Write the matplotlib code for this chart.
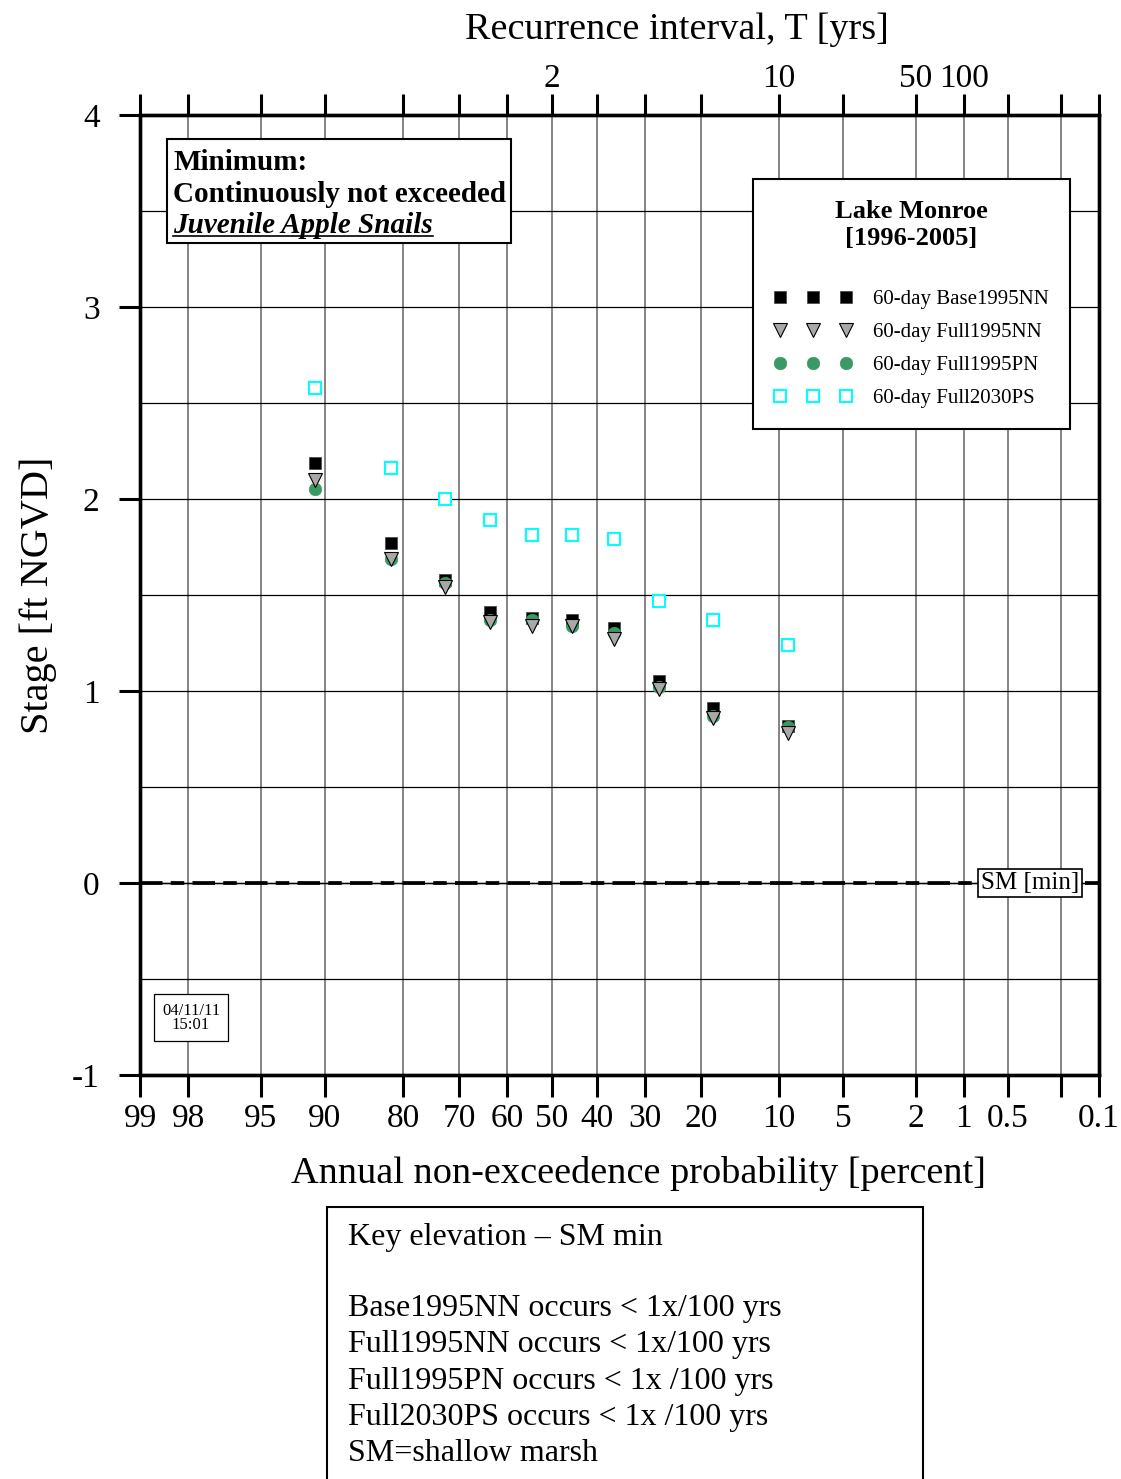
import numpy as np
import matplotlib
matplotlib.use("Agg")
import matplotlib.pyplot as plt
from matplotlib.patches import Rectangle
from matplotlib.lines import Line2D
from statistics import NormalDist

plt.rcParams['font.family'] = ['Liberation Serif', 'DejaVu Serif']
plt.rcParams['axes.unicode_minus'] = False

# plotting positions (annual non-exceedance probability, percent)
prob = [90.91, 81.82, 72.73, 63.64, 54.55, 45.45, 36.36, 27.27, 18.18, 9.09]

base1995nn = [2.19, 1.77, 1.58, 1.41, 1.38, 1.37, 1.33, 1.05, 0.91, 0.82]
full1995nn = [2.10, 1.69, 1.54, 1.36, 1.34, 1.34, 1.27, 1.01, 0.86, 0.78]
full1995pn = [2.05, 1.69, 1.56, 1.37, 1.37, 1.34, 1.30, 1.02, 0.87, 0.81]
full2030ps = [2.58, 2.16, 2.00, 1.89, 1.81, 1.81, 1.79, 1.47, 1.37, 1.24]

xticks = [99, 98, 95, 90, 80, 70, 60, 50, 40, 30, 20, 10, 5, 2, 1, 0.5, 0.2, 0.1]
xlabels = ['99', '98', '95', '90', '80', '70', '60', '50', '40', '30', '20',
           '10', '5', '2', '1', '0.5', '', '0.1']
toplabels = ['', '', '', '', '', '', '', '2', '', '', '', '10', '', '50', '100',
             '', '', '']

key_title = "Key elevation \u2013 SM min"
key_lines = ["Base1995NN occurs < 1x/100 yrs",
             "Full1995NN occurs < 1x/100 yrs",
             "Full1995PN occurs < 1x /100 yrs",
             "Full2030PS occurs < 1x /100 yrs",
             "SM=shallow marsh"]

nd = NormalDist()


def fwd(p):
    p = np.clip(np.asarray(p, float), 1e-6, 100 - 1e-6)
    return np.vectorize(lambda v: nd.inv_cdf(v / 100), otypes=[float])(p)


def inv(z):
    z = np.clip(np.asarray(z, float), -8, 8)
    return np.vectorize(lambda v: 100 * nd.cdf(v), otypes=[float])(z)


fig = plt.figure(figsize=(11.21, 14.79), dpi=100)
ax = fig.add_axes([0.1249, 0.2732, 0.8555, 0.6490])

ax.set_xscale('function', functions=(fwd, inv))
ax.set_xlim(99, 0.1)
ax.set_ylim(-1, 4)

ax.set_xticks(xticks)
ax.set_xticklabels(xlabels)
ax.set_xticks([], minor=True)
ax.set_yticks([-1, 0, 1, 2, 3, 4])
ax.set_yticks([-0.5, 0.5, 1.5, 2.5, 3.5], minor=True)

ax.grid(True, axis='x', which='major', color='#707070', lw=1.2)
ax.grid(True, axis='y', which='both', color='black', lw=0.9)
ax.set_axisbelow(True)

ax.tick_params(axis='x', which='major', direction='out', length=16, width=2.2,
               labelsize=24, pad=4.5)
ax.tick_params(axis='y', which='major', direction='out', length=15, width=2.2,
               labelsize=24, pad=14)
ax.tick_params(axis='y', which='minor', length=0)
for s in ax.spines.values():
    s.set_linewidth(2.4)

ax.set_xlabel("Annual non-exceedence probability [percent]", fontsize=27.5,
              labelpad=16, x=0.520)
ax.set_ylabel("Stage [ft NGVD]", fontsize=29, labelpad=11)

# top axis: recurrence interval
ax2 = ax.twiny()
ax2.set_xscale('function', functions=(fwd, inv))
ax2.set_xlim(99, 0.1)
ax2.set_xticks(xticks)
ax2.set_xticklabels(toplabels)
ax2.set_xticks([], minor=True)
ax2.tick_params(axis='x', direction='out', length=15, width=2.2,
                labelsize=24, pad=0.5)
for s in ax2.spines.values():
    s.set_linewidth(2.4)
ax2.set_xlabel("Recurrence interval, T [yrs]", fontsize=27.5, labelpad=17,
               x=0.560)

# SM min line
ax.axhline(0, color='black', lw=1.0, zorder=3)
ax.axhline(0, color='black', lw=2.7, ls=(0, (6, 2.2, 3.6, 2.2)), zorder=3)
ax.text(0.928, 0, "SM [min]", transform=ax.get_yaxis_transform(), fontsize=18,
        ha='center', va='center', zorder=6,
        bbox=dict(boxstyle='square,pad=0.12', fc='white', ec='black', lw=1.2))

h1, = ax.plot(prob, base1995nn, ls='none', marker='s', ms=9, mfc='black',
              mec='#404040', mew=0.5, zorder=4, label='60-day Base1995NN')
h3, = ax.plot(prob, full1995pn, ls='none', marker='o', ms=9, mfc='#3a9a64',
              mec='#3a9a64', mew=0.5, zorder=4, label='60-day Full1995PN')
h2, = ax.plot(prob, full1995nn, ls='none', marker='v', ms=10.5, mfc='#a8a8a8',
              mec='black', mew=0.8, zorder=4, label='60-day Full1995NN')
h4, = ax.plot(prob, full2030ps, ls='none', marker='s', ms=8.5, mfc='white',
              mec='#00ffff', mew=1.5, zorder=4, label='60-day Full2030PS')

leg = ax.legend(handles=[h1, h2, h3, h4], loc='upper right',
                bbox_to_anchor=(0.9698, 0.9333), borderaxespad=0,
                numpoints=3, handlelength=3.8, handletextpad=1.0,
                borderpad=1.0, labelspacing=0.64, fontsize=15,
                title="Lake Monroe\n[1996-2005]",
                title_fontproperties={'weight': 'bold', 'size': 19},
                fancybox=False, framealpha=1, edgecolor='black')
leg.get_frame().set_linewidth(1.5)
leg.get_title().set_multialignment('center')
leg._legend_box.sep = 29
leg.set_zorder(7)

# top-left annotation box
ax.add_patch(Rectangle((0.0282, 0.8667), 0.3587, 0.1083, transform=ax.transAxes,
                       fc='white', ec='black', lw=1.5, zorder=5))
ax.text(0.0344, 0.9427, "Minimum:", transform=ax.transAxes, fontsize=21,
        fontweight='bold', va='baseline', zorder=6)
ax.text(0.0344, 0.9094, "Continuously not exceeded", transform=ax.transAxes,
        fontsize=21, fontweight='bold', va='baseline', zorder=6)
t3 = ax.text(0.0344, 0.8771, "Juvenile Apple Snails", transform=ax.transAxes,
             fontsize=21, fontweight='bold', fontstyle='italic', va='baseline',
             zorder=6)

# date stamp
ax.text(0.0532, 0.0594, "04/11/11\n15:01", transform=ax.transAxes, fontsize=12,
        ha='center', va='center', multialignment='center', linespacing=0.85,
        bbox=dict(boxstyle='square,pad=0.5', fc='white', ec='black', lw=0.9))

# key box below the chart
fig.add_artist(Rectangle((0.2917, -0.05), 0.5317, 0.2339,
                         transform=fig.transFigure, fc='white', ec='black',
                         lw=1.5, clip_on=False))
fig.text(348 / 1121, 1 - 1237 / 1479, key_title, fontsize=23,
         va='center', ha='left')
fig.text(348 / 1121, 1 - 1294 / 1479, "\n".join(key_lines), fontsize=23,
         va='top', ha='left', linespacing=1.33)

# underline for the italic line
fig.canvas.draw()
bb = t3.get_window_extent()
base_y = ax.transAxes.transform((0, 0.8771))[1] - 3
p0 = fig.transFigure.inverted().transform((bb.x0, base_y))
p1 = fig.transFigure.inverted().transform((bb.x1, base_y))
fig.add_artist(Line2D([p0[0], p1[0]], [p0[1], p1[1]], color='black', lw=1.2,
                      transform=fig.transFigure, zorder=10))

fig.savefig("out.png", dpi=100)
